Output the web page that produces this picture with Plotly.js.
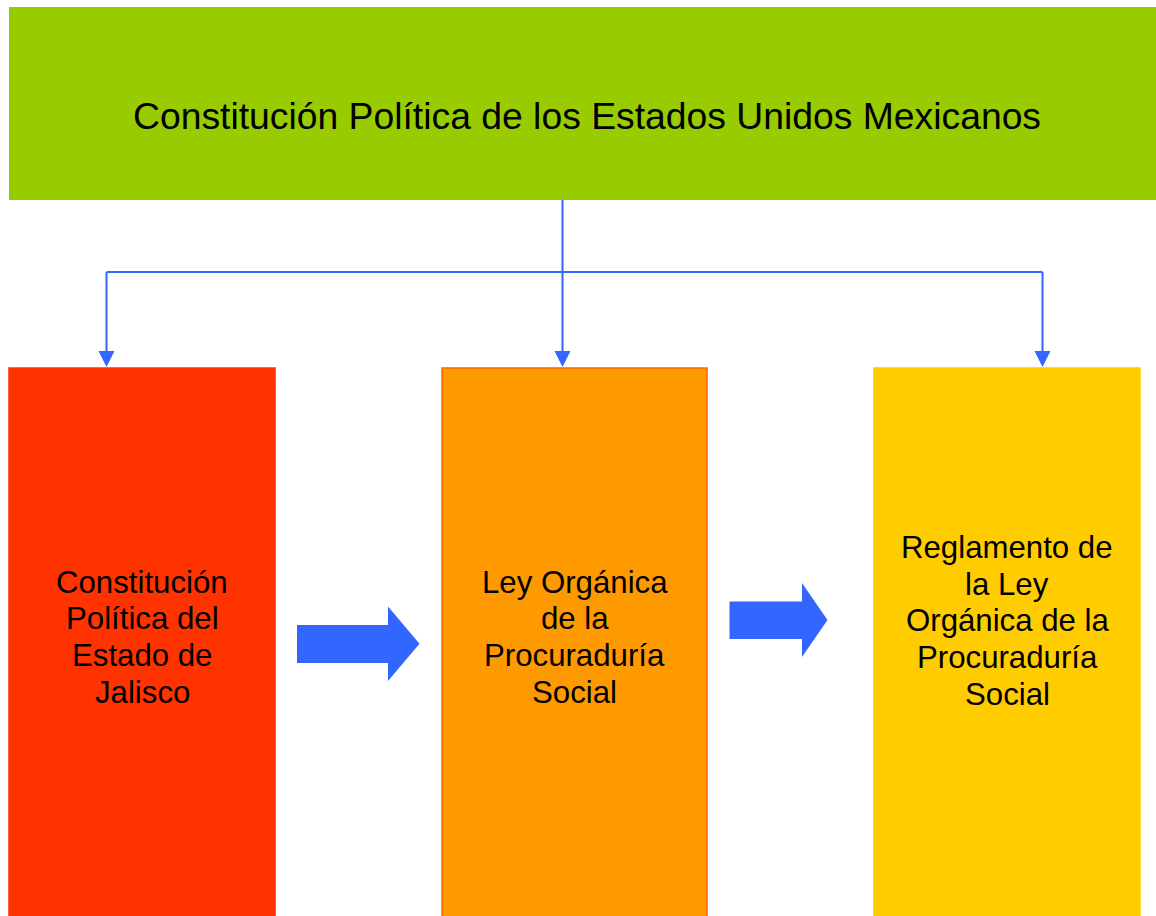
<!DOCTYPE html>
<html>
<head>
<meta charset="utf-8">
<script src="https://cdn.plot.ly/plotly-3.0.1.min.js"></script>
<style>html,body{margin:0;padding:0;background:#fff;}#chart{width:1156px;height:916px;}</style>
</head>
<body>
<div id="chart"></div>
<script>
// ---- content ----
var topTitle = "Constitución Política de los Estados Unidos Mexicanos";
var boxLines = [
  ["Constitución", "Política del", "Estado de", "Jalisco"],
  ["Ley Orgánica", "de la", "Procuraduría", "Social"],
  ["Reglamento de", "la Ley", "Orgánica de la", "Procuraduría", "Social"]
];
var boxColors = ["#ff3300", "#ff9900", "#ffcc00"];
var boxBorders = ["#ff3300", "#ff6600", "#ffcc00"];

// ---- geometry (layout) ----
var W = 1156, H = 916;
var topBox = {x0: 9, x1: 1156, y0: 7, y1: 200};
var boxX = [[9, 275], [442, 707], [874, 1140]];
var boxTop = 368, boxBottom = 916;
var busY = 272;
var stemX = 562.5;
var dropX = [106.5, 562.5, 1042.5];
var blue = "#3366ff";
var blockArrows = [
  {x0: 297, xh: 388, xt: 419.5, by0: 625, by1: 663, hy0: 606.5, hy1: 681},
  {x0: 729.5, xh: 802, xt: 827.5, by0: 601.5, by1: 639, hy0: 583, hy1: 657}
];
var lastLineY = [691, 691, 693];
var lineStep = 36.8;

var shapes = [];
var annotations = [];

// top box
shapes.push({type: "rect", xref: "x", yref: "y", x0: topBox.x0, x1: topBox.x1, y0: topBox.y0, y1: topBox.y1,
  fillcolor: "#99cc00", line: {width: 0}, layer: "below"});
annotations.push({xref: "x", yref: "y", x: 586.5, y: 116, text: topTitle, showarrow: false,
  xanchor: "center", yanchor: "middle",
  font: {family: "Liberation Sans, Arial, sans-serif", size: 37.3, color: "#000"}});

// connectors
shapes.push({type: "line", xref: "x", yref: "y", x0: stemX, x1: stemX, y0: topBox.y1, y1: boxTop - 14, line: {color: blue, width: 2}});
shapes.push({type: "line", xref: "x", yref: "y", x0: dropX[0], x1: dropX[2], y0: busY, y1: busY, line: {color: blue, width: 2}});
[0, 2].forEach(function (i) {
  shapes.push({type: "line", xref: "x", yref: "y", x0: dropX[i], x1: dropX[i], y0: busY, y1: boxTop - 14, line: {color: blue, width: 2}});
});
dropX.forEach(function (x) {
  shapes.push({type: "path", xref: "x", yref: "y",
    path: "M " + (x - 8) + " " + (boxTop - 17) + " L " + (x + 8) + " " + (boxTop - 17) + " L " + x + " " + (boxTop - 1) + " Z",
    fillcolor: blue, line: {width: 0}});
});

// boxes + labels
boxLines.forEach(function (lines, i) {
  shapes.push({type: "rect", xref: "x", yref: "y", x0: boxX[i][0], x1: boxX[i][1], y0: boxTop, y1: boxBottom + 5,
    fillcolor: boxColors[i], line: {color: boxBorders[i], width: 1.5}, layer: "below"});
  var cx = (boxX[i][0] + boxX[i][1]) / 2;
  var n = lines.length;
  lines.forEach(function (t, k) {
    annotations.push({xref: "x", yref: "y", x: cx, y: lastLineY[i] - (n - 1 - k) * lineStep + 1.5, text: t,
      showarrow: false, xanchor: "center", yanchor: "middle",
      font: {family: "Liberation Sans, Arial, sans-serif", size: 31.2, color: "#000"}});
  });
});

// block arrows
blockArrows.forEach(function (a) {
  var ty = (a.hy0 + a.hy1) / 2;
  shapes.push({type: "path", xref: "x", yref: "y",
    path: "M " + a.x0 + " " + a.by0 + " L " + a.xh + " " + a.by0 + " L " + a.xh + " " + a.hy0 +
      " L " + a.xt + " " + ty + " L " + a.xh + " " + a.hy1 + " L " + a.xh + " " + a.by1 +
      " L " + a.x0 + " " + a.by1 + " Z",
    fillcolor: blue, line: {width: 0}});
});

var layout = {
  width: W, height: H,
  margin: {l: 0, r: 0, t: 0, b: 0, pad: 0},
  paper_bgcolor: "#ffffff", plot_bgcolor: "#ffffff",
  xaxis: {range: [0, W], visible: false, fixedrange: true},
  yaxis: {range: [H, 0], visible: false, fixedrange: true},
  showlegend: false,
  shapes: shapes,
  annotations: annotations
};

Plotly.newPlot("chart", [{x: [], y: [], type: "scatter", hoverinfo: "skip"}], layout, {staticPlot: true, displayModeBar: false});
</script>
</body>
</html>
